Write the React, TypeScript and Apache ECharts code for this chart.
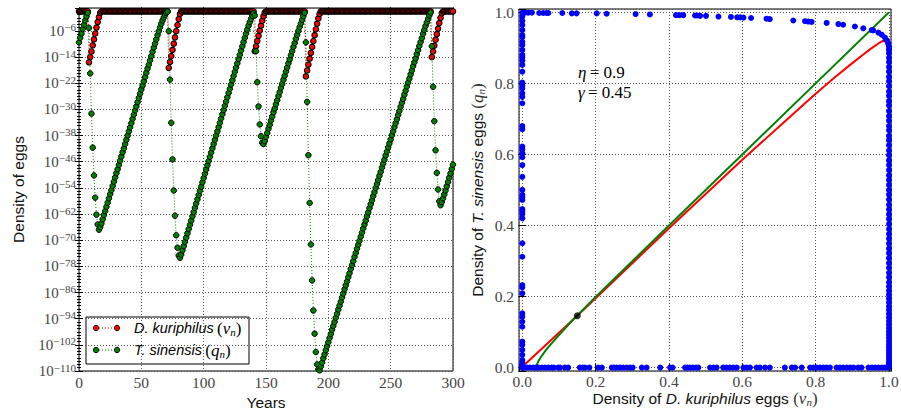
import React, { useEffect, useRef } from "react";
import * as echarts from "echarts";

const SERIF = "Liberation Serif";
const SANS = "Liberation Sans";

const years: number[] = Array.from({ length: 301 }, (_, i) => i);

// log10 of the D. kuriphilus egg density v_n, one value per year (0..300)
const kuriphilusLog10 = [
  0, 0, 0, 0, 0, 0, 0, 0, -15.6, -14.0,
  -12.3, -10.4, -8.6, -6.8, -5.0, -3.3, -1.8, -0.5, 0, 0,
  0, 0, 0, 0, 0, 0, 0, 0, 0, 0,
  0, 0, 0, 0, 0, 0, 0, 0, 0, 0,
  0, 0, 0, 0, 0, 0, 0, 0, 0, 0,
  0, 0, 0, 0, 0, 0, 0, 0, 0, 0,
  0, 0, 0, 0, 0, 0, 0, 0, 0, 0,
  0, 0, -17.3, -15.5, -13.7, -11.8, -9.9, -8.0, -6.1, -4.2,
  -2.4, -0.8, 0, 0, 0, 0, 0, 0, 0, 0,
  0, 0, 0, 0, 0, 0, 0, 0, 0, 0,
  0, 0, 0, 0, 0, 0, 0, 0, 0, 0,
  0, 0, 0, 0, 0, 0, 0, 0, 0, 0,
  0, 0, 0, 0, 0, 0, 0, 0, 0, 0,
  0, 0, 0, 0, 0, 0, 0, 0, 0, 0,
  0, -12.2, -10.7, -9.1, -7.5, -5.9, -4.4, -2.9, -1.5, -0.4,
  0, 0, 0, 0, 0, 0, 0, 0, 0, 0,
  0, 0, 0, 0, 0, 0, 0, 0, 0, 0,
  0, 0, 0, 0, 0, 0, 0, 0, 0, 0,
  0, 0, -19.9, -18.1, -16.3, -14.5, -12.7, -10.9, -9.1, -7.3,
  -5.5, -3.8, -2.2, -0.8, 0, 0, 0, 0, 0, 0,
  0, 0, 0, 0, 0, 0, 0, 0, 0, 0,
  0, 0, 0, 0, 0, 0, 0, 0, 0, 0,
  0, 0, 0, 0, 0, 0, 0, 0, 0, 0,
  0, 0, 0, 0, 0, 0, 0, 0, 0, 0,
  0, 0, 0, 0, 0, 0, 0, 0, 0, 0,
  0, 0, 0, 0, 0, 0, 0, 0, 0, 0,
  0, 0, 0, 0, 0, 0, 0, 0, 0, 0,
  0, 0, 0, 0, 0, 0, 0, 0, 0, 0,
  0, 0, 0, -14.0, -12.3, -10.5, -8.7, -7.0, -5.3, -3.6,
  -2.0, -0.6, 0, 0, 0, 0, 0, 0, 0, 0,
  0,
];

// log10 of the T. sinensis egg density q_n, one value per year (0..300)
const sinensisLog10 = [
  -9.5, -8.1, -6.8, -5.4, -4.1, -2.8, -1.6, -0.5, -5.1, -19.0,
  -31.3, -41.7, -50.2, -57.0, -62.2, -65.2, -66.8, -66.0, -64.9, -63.6,
  -62.3, -61.1, -59.8, -58.5, -57.2, -55.9, -54.7, -53.4, -52.1, -50.8,
  -49.5, -48.3, -47.0, -45.7, -44.4, -43.1, -41.9, -40.6, -39.3, -38.0,
  -36.7, -35.5, -34.2, -32.9, -31.6, -30.3, -29.1, -27.8, -26.5, -25.2,
  -23.9, -22.7, -21.4, -20.1, -18.8, -17.5, -16.3, -15.0, -13.7, -12.4,
  -11.1, -9.9, -8.6, -7.3, -6.1, -4.9, -3.8, -2.8, -1.9, -1.1,
  -0.5, -0.1, -6.1, -20.9, -34.1, -45.3, -54.8, -62.5, -68.5, -72.3,
  -74.7, -75.4, -74.4, -73.1, -71.8, -70.5, -69.2, -67.9, -66.6, -65.3,
  -64.0, -62.7, -61.4, -60.1, -58.8, -57.5, -56.2, -54.9, -53.6, -52.3,
  -51.0, -49.7, -48.4, -47.1, -45.8, -44.5, -43.2, -41.9, -40.6, -39.3,
  -38.0, -36.7, -35.4, -34.1, -32.8, -31.5, -30.2, -28.9, -27.6, -26.3,
  -25.0, -23.7, -22.4, -21.1, -19.8, -18.5, -17.2, -15.9, -14.6, -13.3,
  -12.0, -10.7, -9.4, -8.1, -6.8, -5.6, -4.4, -3.3, -2.3, -1.4,
  -0.6, -1.3, -12.2, -21.7, -29.1, -34.6, -38.2, -40.2, -40.6, -39.7,
  -38.4, -37.2, -35.9, -34.7, -33.4, -32.2, -30.9, -29.7, -28.4, -27.2,
  -25.9, -24.7, -23.4, -22.2, -20.9, -19.7, -18.4, -17.2, -15.9, -14.7,
  -13.4, -12.2, -10.9, -9.7, -8.4, -7.2, -6.0, -4.8, -3.7, -2.6,
  -1.5, -0.5, -9.5, -27.7, -44.0, -58.6, -71.3, -82.3, -91.5, -98.6,
  -104.2, -108.0, -109.5, -109.8, -108.6, -107.4, -106.1, -104.9, -103.6, -102.4,
  -101.2, -99.9, -98.7, -97.4, -96.2, -95.0, -93.7, -92.5, -91.2, -90.0,
  -88.8, -87.5, -86.3, -85.0, -83.8, -82.6, -81.3, -80.1, -78.8, -77.6,
  -76.4, -75.1, -73.9, -72.6, -71.4, -70.2, -68.9, -67.7, -66.4, -65.2,
  -64.0, -62.7, -61.5, -60.2, -59.0, -57.8, -56.5, -55.3, -54.0, -52.8,
  -51.6, -50.3, -49.1, -47.8, -46.6, -45.4, -44.1, -42.9, -41.6, -40.4,
  -39.2, -37.9, -36.7, -35.4, -34.2, -33.0, -31.7, -30.5, -29.2, -28.0,
  -26.8, -25.5, -24.3, -23.0, -21.8, -20.6, -19.3, -18.1, -16.8, -15.6,
  -14.4, -13.1, -11.9, -10.6, -9.4, -8.2, -6.9, -5.7, -4.5, -3.4,
  -2.3, -1.3, -0.4, -10.7, -23.1, -33.6, -42.5, -49.4, -54.5, -58.1,
  -59.3, -58.3, -57.2, -56.0, -54.8, -53.5, -52.2, -50.9, -49.6, -48.2,
  -46.9,
];

// Phase-plane iterates (v_n, q_n): points lying on v = 0
const orbitLeftQ = [
  0.999, 0.988, 0.976, 0.964, 0.95, 0.936, 0.93, 0.917, 0.908, 0.894, 0.88, 0.873,
  0.864, 0.852, 0.833, 0.802, 0.795, 0.786, 0.772, 0.762, 0.744, 0.68, 0.671, 0.622,
  0.614, 0.603, 0.592, 0.57, 0.537, 0.5, 0.486, 0.479, 0.472, 0.446, 0.439, 0.432,
  0.42, 0.35, 0.312, 0.232, 0.226, 0.209, 0.153, 0.143, 0.129, 0.115, 0.073, 0.064,
  0.05, 0.036, 0.021, 0.014, 0.007, 0.001,
];
// ... on q = 0
const orbitBottomV = [
  0.0, 0.005, 0.012, 0.021, 0.03, 0.037, 0.044, 0.053, 0.062, 0.071, 0.08, 0.086,
  0.098, 0.103, 0.116, 0.125, 0.157, 0.165, 0.171, 0.183, 0.207, 0.217, 0.244, 0.25,
  0.257, 0.266, 0.275, 0.285, 0.294, 0.301, 0.326, 0.339, 0.376, 0.403, 0.41, 0.444,
  0.45, 0.457, 0.465, 0.474, 0.48, 0.512, 0.521, 0.53, 0.548, 0.557, 0.566, 0.575,
  0.585, 0.603, 0.612, 0.621, 0.639, 0.648, 0.662, 0.675, 0.716, 0.735, 0.744, 0.762,
  0.785, 0.794, 0.803, 0.812, 0.821, 0.83, 0.839, 0.857, 0.866, 0.875, 0.885, 0.894,
  0.903, 0.916, 0.925, 0.944, 0.953, 0.962, 0.971, 0.98, 0.989, 0.998,
];
// ... on v = 1
const orbitRightQ = [
  0.895, 0.885, 0.872, 0.86, 0.846, 0.833, 0.818, 0.806, 0.792, 0.777, 0.765, 0.75,
  0.738, 0.722, 0.708, 0.695, 0.68, 0.668, 0.652, 0.64, 0.626, 0.611, 0.598, 0.583,
  0.57, 0.556, 0.541, 0.528, 0.514, 0.5, 0.487, 0.473, 0.458, 0.445, 0.431, 0.418,
  0.404, 0.39, 0.376, 0.363, 0.349, 0.335, 0.322, 0.308, 0.294, 0.281, 0.267, 0.254,
  0.24, 0.228, 0.216, 0.205, 0.194, 0.183, 0.172, 0.162, 0.151, 0.141, 0.131, 0.121,
  0.111, 0.101, 0.092, 0.083, 0.074, 0.065, 0.057, 0.049, 0.041, 0.034, 0.027, 0.02,
  0.014, 0.009, 0.005, 0.002,
];
// ... along the upper arc near q = 1
const orbitTop: [number, number][] = [
  [0.007, 0.999], [0.016, 0.999], [0.026, 0.999], [0.046, 0.998], [0.057, 0.998],
  [0.066, 0.998], [0.071, 0.998], [0.109, 0.998], [0.135, 0.997], [0.148, 0.997],
  [0.203, 0.997], [0.23, 0.996], [0.309, 0.995], [0.348, 0.994], [0.419, 0.992],
  [0.428, 0.992], [0.439, 0.992], [0.471, 0.991], [0.477, 0.991], [0.485, 0.99],
  [0.501, 0.99], [0.535, 0.988], [0.569, 0.987], [0.586, 0.986], [0.594, 0.986],
  [0.603, 0.985], [0.624, 0.984], [0.666, 0.982], [0.675, 0.981], [0.739, 0.977],
  [0.771, 0.975], [0.78, 0.974], [0.789, 0.973], [0.83, 0.97], [0.862, 0.967],
  [0.875, 0.965], [0.907, 0.96], [0.93, 0.955], [0.953, 0.95], [0.957, 0.949],
  [0.971, 0.943], [0.98, 0.937], [0.989, 0.929], [0.994, 0.921], [0.998, 0.912],
  [1.0, 0.903],
];

// Nullcline curves in the (v, q) plane
const kuriphilusCurve: [number, number][] = [
  [0.003, 0.005], [0.15, 0.146], [0.4, 0.392], [0.6, 0.585], [0.7, 0.678],
  [0.8, 0.771], [0.85, 0.815], [0.9, 0.857], [0.93, 0.881], [0.95, 0.897],
  [0.965, 0.908], [0.975, 0.915], [0.982, 0.919], [0.987, 0.92], [0.991, 0.917],
  [0.994, 0.91], [0.996, 0.898], [0.998, 0.875], [0.999, 0.84], [1.0, 0.78], [1.0, 0.0],
];
const sinensisCurve: [number, number][] = [
  [0.037, 0.0], [0.04, 0.009], [0.044, 0.018], [0.049, 0.027], [0.055, 0.036],
  [0.062, 0.046], [0.07, 0.056], [0.08, 0.068], [0.092, 0.082], [0.105, 0.097],
  [0.12, 0.114], [0.135, 0.131], [0.15, 0.147], [0.2, 0.199], [0.4, 0.4],
  [0.6, 0.6], [0.8, 0.8], [1.0, 1.0],
];
const equilibrium: [number, number] = [0.15, 0.146];

const RED = "#ff0000";
const GREEN = "#008000";
const BLUE = "#0000ff";
const TICK_COLOR = "#444";
const TEXT_COLOR = "#111";
const MATH_COLOR = "#333";

const labelRich = {
  t: { fontFamily: SANS, fontSize: 15.5, color: TEXT_COLOR, lineHeight: 18 },
  i: { fontFamily: SANS, fontSize: 15.5, fontStyle: "italic", color: TEXT_COLOR, lineHeight: 18 },
  p: { fontFamily: SERIF, fontSize: 17, color: MATH_COLOR, lineHeight: 18 },
  v: { fontFamily: SERIF, fontSize: 17, fontStyle: "italic", color: MATH_COLOR, lineHeight: 18 },
  n: { fontFamily: SERIF, fontSize: 11, fontStyle: "italic", color: MATH_COLOR, verticalAlign: "bottom", lineHeight: 9 },
};

const legendRich = {
  ...labelRich,
  i: { fontFamily: SANS, fontSize: 14.5, fontStyle: "italic", color: TEXT_COLOR, lineHeight: 18 },
};

const powRich = {
  b: { fontFamily: SERIF, fontSize: 15, color: TICK_COLOR, lineHeight: 18 },
  s: { fontFamily: SERIF, fontSize: 11, color: TICK_COLOR, verticalAlign: "top", lineHeight: 11 },
};

const gridLine = { show: true, lineStyle: { color: "#555", type: [1, 2], width: 1 } };
const innerTick = { show: true, inside: true, length: 4, lineStyle: { color: "#000", width: 1 } };
const tickFont = { fontFamily: SERIF, fontSize: 15.5, color: TICK_COLOR, lineHeight: 15 };
const plainName = { fontFamily: SANS, fontSize: 15.5, color: TEXT_COLOR, lineHeight: 18 };

const unitLabel = (v: number) =>
  Math.abs(v * 5 - Math.round(v * 5)) < 1e-6 ? (Math.abs(v) < 1e-9 ? 0 : v).toFixed(1) : "";

function buildOption() {
  const unitX = { min: -0.009, max: 1.0055 };
  const unitY = { min: -0.0096, max: 1.0093 };

  return {
    animation: false,
    backgroundColor: "#fff",
    textStyle: { fontFamily: SERIF },
    grid: [
      { left: 79, top: 8, width: 374, height: 363, show: true, borderColor: "#000", borderWidth: 1, containLabel: false, outerBoundsMode: "none" },
      { left: 519, top: 9, width: 372, height: 362, show: true, borderColor: "#000", borderWidth: 1, containLabel: false, outerBoundsMode: "none" },
    ],
    xAxis: [
      {
        type: "value", gridIndex: 0, min: 0, max: 300, interval: 50,
        axisLine: { show: false }, axisTick: innerTick,
        axisLabel: { ...tickFont, margin: 4 },
        splitLine: gridLine,
        name: "Years", nameLocation: "middle", nameGap: 22, nameMoveOverlap: false,
        nameTextStyle: plainName,
      },
      {
        type: "value", gridIndex: 0, position: "top", min: 0, max: 300, interval: 50,
        axisLine: { show: false }, axisTick: innerTick, axisLabel: { show: false }, splitLine: { show: false },
      },
      {
        type: "value", gridIndex: 1, ...unitX, splitNumber: 5,
        axisLine: { show: false }, axisTick: innerTick,
        axisLabel: { ...tickFont, margin: 3, formatter: unitLabel },
        splitLine: gridLine,
        name: "{t|Density of }{i|D. kuriphilus}{t| eggs }{p|(}{v|v}{n|n}{p|)}",
        nameLocation: "middle", nameGap: 18, nameMoveOverlap: false,
        nameTextStyle: { rich: labelRich },
      },
      {
        type: "value", gridIndex: 1, position: "top", ...unitX, splitNumber: 5,
        axisLine: { show: false }, axisTick: innerTick, axisLabel: { show: false }, splitLine: { show: false },
      },
    ],
    yAxis: [
      {
        type: "value", gridIndex: 0, min: -110, max: 1, interval: 8,
        axisLine: { show: false }, axisTick: innerTick,
        minorTick: { show: true, splitNumber: 8, length: 2, lineStyle: { color: "#000" } },
        axisLabel: {
          margin: 3,
          formatter: (v: number) => (v > -5 ? "" : `{b|10}{s|\u2212${Math.round(-v)}}`),
          rich: powRich,
        },
        splitLine: gridLine,
        name: "Density of eggs", nameLocation: "middle", nameGap: 52, nameMoveOverlap: false,
        nameTextStyle: plainName,
      },
      {
        type: "value", gridIndex: 0, position: "right", min: -110, max: 1, interval: 8,
        axisLine: { show: false }, axisTick: innerTick,
        minorTick: { show: true, splitNumber: 8, length: 2, lineStyle: { color: "#000" } },
        axisLabel: { show: false }, splitLine: { show: false },
      },
      {
        type: "value", gridIndex: 1, ...unitY, splitNumber: 5,
        axisLine: { show: false }, axisTick: innerTick,
        axisLabel: { ...tickFont, margin: 5, formatter: unitLabel },
        splitLine: gridLine,
        name: "{t|Density of }{i|T. sinensis}{t| eggs }{p|(}{v|q}{n|n}{p|)}",
        nameLocation: "middle", nameGap: 33, nameMoveOverlap: false,
        nameTextStyle: { rich: labelRich },
      },
      {
        type: "value", gridIndex: 1, position: "right", ...unitY, splitNumber: 5,
        axisLine: { show: false }, axisTick: innerTick, axisLabel: { show: false }, splitLine: { show: false },
      },
    ],
    series: [
      {
        name: "D. kuriphilus", type: "line", xAxisIndex: 0, yAxisIndex: 0,
        data: years.map((yr, i) => [yr, kuriphilusLog10[i]]),
        symbol: "circle", symbolSize: 5.5, showAllSymbol: true,
        lineStyle: { color: RED, width: 1, type: [1, 2] },
        itemStyle: { color: RED, borderColor: "#000", borderWidth: 1.1 },
        z: 2,
      },
      {
        name: "T. sinensis", type: "line", xAxisIndex: 0, yAxisIndex: 0,
        data: years.map((yr, i) => [yr, sinensisLog10[i]]),
        symbol: "circle", symbolSize: 5.5, showAllSymbol: true,
        lineStyle: { color: GREEN, width: 1, type: [1, 2] },
        itemStyle: { color: GREEN, borderColor: "#000", borderWidth: 1 },
        z: 3,
      },
      {
        type: "line", xAxisIndex: 2, yAxisIndex: 2, data: kuriphilusCurve,
        showSymbol: false, lineStyle: { color: RED, width: 2 }, z: 2,
      },
      {
        type: "line", xAxisIndex: 2, yAxisIndex: 2, data: sinensisCurve,
        showSymbol: false, lineStyle: { color: GREEN, width: 2 }, z: 2,
      },
      {
        type: "scatter", xAxisIndex: 2, yAxisIndex: 2,
        data: [
          ...orbitLeftQ.map((q) => [0, q]),
          ...orbitBottomV.map((v) => [v, 0]),
          ...orbitRightQ.map((q) => [1, q]),
          ...orbitTop,
        ],
        symbolSize: 6, itemStyle: { color: BLUE, opacity: 1 }, z: 4,
      },
      {
        type: "scatter", xAxisIndex: 2, yAxisIndex: 2, data: [equilibrium],
        symbolSize: 7, itemStyle: { color: "#000" }, z: 5,
      },
    ],
    graphic: [
      {
        type: "group", z: 100,
        children: [
          { type: "rect", shape: { x: 86, y: 317, width: 163, height: 47 }, style: { fill: "#fff", stroke: "#000", lineWidth: 1 } },
          { type: "line", shape: { x1: 96, y1: 328, x2: 117, y2: 328 }, style: { stroke: RED, lineWidth: 1, lineDash: [1, 2] } },
          { type: "circle", shape: { cx: 96, cy: 328, r: 2.7 }, style: { fill: RED, stroke: "#000", lineWidth: 1 } },
          { type: "circle", shape: { cx: 117, cy: 328, r: 2.7 }, style: { fill: RED, stroke: "#000", lineWidth: 1 } },
          { type: "line", shape: { x1: 96, y1: 350, x2: 117, y2: 350 }, style: { stroke: GREEN, lineWidth: 1, lineDash: [1, 2] } },
          { type: "circle", shape: { cx: 96, cy: 350, r: 2.7 }, style: { fill: GREEN, stroke: "#000", lineWidth: 1 } },
          { type: "circle", shape: { cx: 117, cy: 350, r: 2.7 }, style: { fill: GREEN, stroke: "#000", lineWidth: 1 } },
          {
            type: "text", x: 134, y: 328,
            style: { text: "{i|D. kuriphilus} {p|(}{v|v}{n|n}{p|)}", rich: legendRich, verticalAlign: "middle", align: "left" },
          },
          {
            type: "text", x: 134, y: 350,
            style: { text: "{i|T. sinensis} {p|(}{v|q}{n|n}{p|)}", rich: legendRich, verticalAlign: "middle", align: "left" },
          },
        ],
      },
      {
        type: "text", x: 578, y: 72, z: 100,
        style: {
          text: "{g|\u03b7} {r|= 0.9}",
          rich: {
            g: { fontFamily: SERIF, fontSize: 17, fontStyle: "italic", color: MATH_COLOR },
            r: { fontFamily: SERIF, fontSize: 17, color: MATH_COLOR },
          },
          verticalAlign: "middle", align: "left",
        },
      },
      {
        type: "text", x: 578, y: 92, z: 100,
        style: {
          text: "{g|\u03b3} {r|= 0.45}",
          rich: {
            g: { fontFamily: SERIF, fontSize: 17, fontStyle: "italic", color: MATH_COLOR },
            r: { fontFamily: SERIF, fontSize: 17, color: MATH_COLOR },
          },
          verticalAlign: "middle", align: "left",
        },
      },
    ],
  };
}

export default function App() {
  const ref = useRef<HTMLDivElement | null>(null);

  useEffect(() => {
    if (!ref.current) return;
    const chart = echarts.init(ref.current, undefined, { renderer: "svg" });
    chart.setOption(buildOption() as any);
    return () => chart.dispose();
  }, []);

  return (
    <div
      ref={ref}
      style={{ position: "fixed", left: 0, top: 0, width: 901, height: 412, background: "#fff" }}
    />
  );
}
